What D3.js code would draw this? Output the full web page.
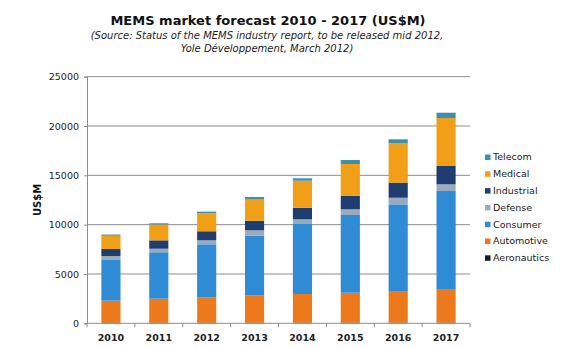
<!DOCTYPE html>
<html>
<head>
<meta charset="utf-8">
<script src="https://cdn.jsdelivr.net/npm/d3@7"></script>
<style>
  body { margin: 0; background: #fff; }
  svg { display: block; font-family: "DejaVu Sans", Verdana, sans-serif; }
</style>
</head>
<body>
<div id="chart"></div>
<script>
// MEMS market by application, stacked bottom to top
var years = ["2010", "2011", "2012", "2013", "2014", "2015", "2016", "2017"];
var series = ["Aeronautics", "Automotive", "Consumer", "Defense", "Industrial", "Medical", "Telecom"];
var aeronautics = [40, 45, 50, 50, 55, 55, 60, 60];
var automotive  = [2250, 2450, 2590, 2790, 2915, 3045, 3210, 3340];
var consumer    = [4130, 4705, 5370, 6040, 7100, 7880, 8790, 10010];
var defense     = [400, 360, 405, 550, 470, 580, 670, 680];
var industrial  = [710, 850, 915, 970, 1180, 1380, 1530, 1860];
var medical     = [1350, 1610, 1820, 2200, 2740, 3210, 3990, 4860];
var telecom     = [120, 120, 170, 200, 240, 410, 400, 540];
var yTicks = [0, 5000, 10000, 15000, 20000, 25000];

var colors = {
    Aeronautics: "#141c2c",
    Automotive: "#ec7a1c",
    Consumer: "#2f8bd3",
    Defense: "#9aabbd",
    Industrial: "#1f3e70",
    Medical: "#f09f17",
    Telecom: "#3b90ae"
};

var cols = [aeronautics, automotive, consumer, defense, industrial, medical, telecom];
var rows = years.map(function (y, i) {
    var r = { year: y };
    series.forEach(function (s, k) { r[s] = cols[k][i]; });
    return r;
});

var w = 569, h = 348;
var svg = d3.select("#chart").append("svg").attr("width", w).attr("height", h);

var x = d3.scaleBand().domain(years).range([87, 470]).paddingInner(0.6).paddingOuter(0.3);
var y = d3.scaleLinear().domain([0, 25000]).range([323.3, 76.7]);

// title
svg.append("text").attr("x", 268).attr("y", 25).attr("text-anchor", "middle")
    .attr("font-size", 13).attr("font-weight", "bold").attr("fill", "#111")
    .text("MEMS market forecast 2010 - 2017 (US$M)");
svg.append("text").attr("x", 267).attr("y", 39).attr("text-anchor", "middle")
    .attr("font-size", 10).attr("font-style", "italic").attr("fill", "#222")
    .text("(Source: Status of the MEMS industry report, to be released mid 2012,");
svg.append("text").attr("x", 267).attr("y", 52).attr("text-anchor", "middle")
    .attr("font-size", 10).attr("font-style", "italic").attr("fill", "#222")
    .text("Yole Développement, March 2012)");

// gridlines
svg.append("g").selectAll("line").data(yTicks.slice(1)).enter().append("line")
    .attr("x1", 87).attr("x2", 470)
    .attr("y1", function (d) { return y(d); }).attr("y2", function (d) { return y(d); })
    .attr("stroke", "#8c8c8c").attr("stroke-width", 1);

// y axis
var yAxis = svg.append("g").attr("transform", "translate(87,0)")
    .call(d3.axisLeft(y).tickValues(yTicks).tickSize(3).tickFormat(d3.format("d")));
yAxis.select(".domain").attr("stroke", "#8c8c8c");
yAxis.selectAll(".tick line").attr("stroke", "#8c8c8c");
yAxis.selectAll("text").attr("font-size", 9.5).attr("fill", "#222")
    .attr("font-family", "DejaVu Sans").attr("x", -8);

svg.append("text").attr("transform", "translate(41,200) rotate(-90)")
    .attr("text-anchor", "middle").attr("font-size", 10).attr("font-weight", "bold")
    .attr("fill", "#111").text("US$M");

// stacked bars
var stack = d3.stack().keys(series)(rows);
svg.append("g").selectAll("g").data(stack).enter().append("g")
    .attr("fill", function (d) { return colors[d.key]; })
    .selectAll("rect").data(function (d) { return d; }).enter().append("rect")
    .attr("x", function (d) { return x(d.data.year); })
    .attr("width", x.bandwidth())
    .attr("y", function (d) { return y(d[1]); })
    .attr("height", function (d) { return y(d[0]) - y(d[1]); });

// x axis with ticks between categories
var xg = svg.append("g");
xg.append("line").attr("x1", 87).attr("x2", 470).attr("y1", y(0)).attr("y2", y(0))
    .attr("stroke", "#8c8c8c");
var step = x.step();
xg.selectAll("line.tk").data(d3.range(years.length + 1)).enter().append("line")
    .attr("class", "tk")
    .attr("x1", function (i) { return 87 + i * step; })
    .attr("x2", function (i) { return 87 + i * step; })
    .attr("y1", y(0)).attr("y2", y(0) + 4)
    .attr("stroke", "#8c8c8c");
xg.selectAll("text").data(years).enter().append("text")
    .attr("x", function (d) { return x(d) + x.bandwidth() / 2; })
    .attr("y", 341).attr("text-anchor", "middle")
    .attr("font-size", 9.5).attr("font-weight", "bold").attr("fill", "#222")
    .text(function (d) { return d; });

// legend, top entry is the top of the stack
var legend = svg.append("g").selectAll("g").data(series.slice().reverse()).enter().append("g")
    .attr("transform", function (d, i) { return "translate(485," + (160 + i * 16.8) + ")"; });
legend.append("rect").attr("x", 0).attr("y", -5.5).attr("width", 5.5).attr("height", 5.5)
    .attr("fill", function (d) { return colors[d]; });
legend.append("text").attr("x", 8).attr("y", 0).attr("dy", "0.05em")
    .attr("font-size", 9.5).attr("fill", "#1a1a1a")
    .text(function (d) { return d; });
</script>
</body>
</html>
